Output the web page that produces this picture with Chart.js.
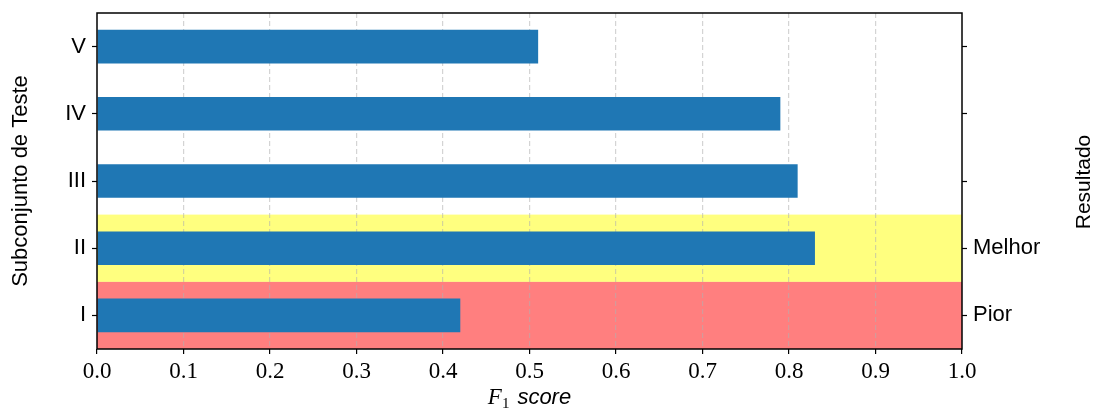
<!DOCTYPE html>
<html>
<head>
<meta charset="utf-8">
<script src="https://cdn.jsdelivr.net/npm/chart.js@4"></script>
<style>
  body { margin: 0; background: #fff; }
  canvas { display: block; }
</style>
</head>
<body>
<canvas id="f1Chart" width="1099" height="409"></canvas>
<script>
// subsets, bottom to top
const subsets = ["I", "II", "III", "IV", "V"];
const f1Scores = [0.42, 0.83, 0.81, 0.79, 0.51];
// labels on the right-hand axis, one per subset
const resultLabels = ["Pior", "Melhor", "", "", ""];
// shaded rows behind the bars
const highlightRows = ["I", "II"];
const highlightColors = ["rgba(255, 0, 0, 0.5)", "rgba(255, 255, 0, 0.5)"];
const xTicks = [0, 0.1, 0.2, 0.3, 0.4, 0.5, 0.6, 0.7, 0.8, 0.9, 1.0];

const sans = "'Liberation Sans', Arial, sans-serif";
const serif = "'Liberation Serif', 'DejaVu Serif', serif";

const rowShading = {
  id: "rowShading",
  beforeDraw(chart) {
    const { ctx, chartArea, scales } = chart;
    const y = scales.y;
    const half = Math.abs(y.getPixelForValue(1) - y.getPixelForValue(0)) / 2;
    ctx.save();
    highlightRows.forEach((row, i) => {
      const c = y.getPixelForValue(subsets.indexOf(row));
      ctx.fillStyle = highlightColors[i];
      ctx.fillRect(chartArea.left, c - half, chartArea.right - chartArea.left, 2 * half);
    });
    ctx.restore();
  },
};

const frameAndTitles = {
  id: "frameAndTitles",
  afterDraw(chart) {
    const { ctx, chartArea } = chart;
    ctx.save();
    ctx.strokeStyle = "#000";
    ctx.lineWidth = 1.5;
    ctx.strokeRect(chartArea.left, chartArea.top, chartArea.right - chartArea.left, chartArea.bottom - chartArea.top);

    // right axis title, reading bottom to top
    ctx.fillStyle = "#000";
    ctx.font = "21px " + sans;
    ctx.textAlign = "center";
    ctx.textBaseline = "middle";
    ctx.translate(1084, 182);
    ctx.rotate(-Math.PI / 2);
    ctx.fillText("Resultado", 0, 0);
    ctx.restore();

    // x axis title: F_1 score
    ctx.save();
    ctx.fillStyle = "#000";
    ctx.textBaseline = "alphabetic";
    ctx.textAlign = "left";
    const fFont = "italic 23px " + serif;
    const subFont = "15px " + serif;
    const sFont = "italic 22px " + sans;
    ctx.font = fFont; const wF = ctx.measureText("F").width;
    ctx.font = subFont; const w1 = ctx.measureText("1").width;
    ctx.font = sFont; const wS = ctx.measureText("score").width;
    const gap = 8;
    const total = wF + w1 + gap + wS;
    let x = (chartArea.left + chartArea.right) / 2 - total / 2;
    const base = 404;
    ctx.font = fFont; ctx.fillText("F", x, base); x += wF;
    ctx.font = subFont; ctx.fillText("1", x, base + 4); x += w1 + gap;
    ctx.font = sFont; ctx.fillText("score", x, base);
    ctx.restore();
  },
};

// vertical axes: fixed width, no extra label overhang above/below
const fitSide = (width) => (s) => {
  s.width = width;
  s.paddingTop = 0;
  s.paddingBottom = 0;
};

new Chart(document.getElementById("f1Chart").getContext("2d"), {
  type: "bar",
  data: {
    labels: subsets,
    datasets: [
      {
        data: f1Scores,
        backgroundColor: "#1f77b4",
        barPercentage: 0.5,
        categoryPercentage: 1.0,
        yAxisID: "y",
      },
    ],
  },
  options: {
    indexAxis: "y",
    responsive: false,
    animation: false,
    layout: { padding: { top: 13, left: 0, right: 0, bottom: 0 } },
    plugins: {
      legend: { display: false },
      tooltip: { enabled: false },
    },
    scales: {
      x: {
        type: "linear",
        min: 0,
        max: 1,
        z: 1,
        afterFit: (s) => { s.height = 60; },
        afterBuildTicks: (s) => { s.ticks = xTicks.map((v) => ({ value: v })); },
        ticks: {
          color: "#000",
          font: { family: serif, size: 23 },
          padding: 4,
          maxRotation: 0,
          callback: (v) => v.toFixed(1),
        },
        grid: {
          color: (c) => (c.tick && (c.tick.value === 0 || c.tick.value === 1) ? "transparent" : "rgba(176,176,176,0.55)"),
          lineWidth: 1.2,
          tickColor: "#000",
          tickLength: 5,
          tickWidth: 1.2,
          tickBorderDash: [],
        },
        border: { display: false, dash: [5, 3] },
      },
      y: {
        type: "category",
        reverse: true,
        position: "left",
        afterFit: fitSide(97),
        ticks: {
          color: "#000",
          font: { family: sans, size: 22 },
          padding: 6,
        },
        grid: {
          offset: false,
          drawOnChartArea: false,
          tickColor: "#000",
          tickLength: 5,
          tickWidth: 1.2,
        },
        border: { display: false },
        title: {
          display: true,
          text: "Subconjunto de Teste",
          color: "#000",
          font: { family: sans, size: 22 },
          padding: { top: 8, bottom: 0 },
        },
      },
      y2: {
        type: "category",
        labels: subsets,
        reverse: true,
        position: "right",
        afterFit: fitSide(137),
        ticks: {
          color: "#000",
          font: { family: sans, size: 22 },
          padding: 6,
          callback: (v, i) => resultLabels[i],
        },
        grid: {
          offset: false,
          drawOnChartArea: false,
          tickColor: "#000",
          tickLength: 5,
          tickWidth: 1.2,
        },
        border: { display: false },
      },
    },
  },
  plugins: [rowShading, frameAndTitles],
});
</script>
</body>
</html>
